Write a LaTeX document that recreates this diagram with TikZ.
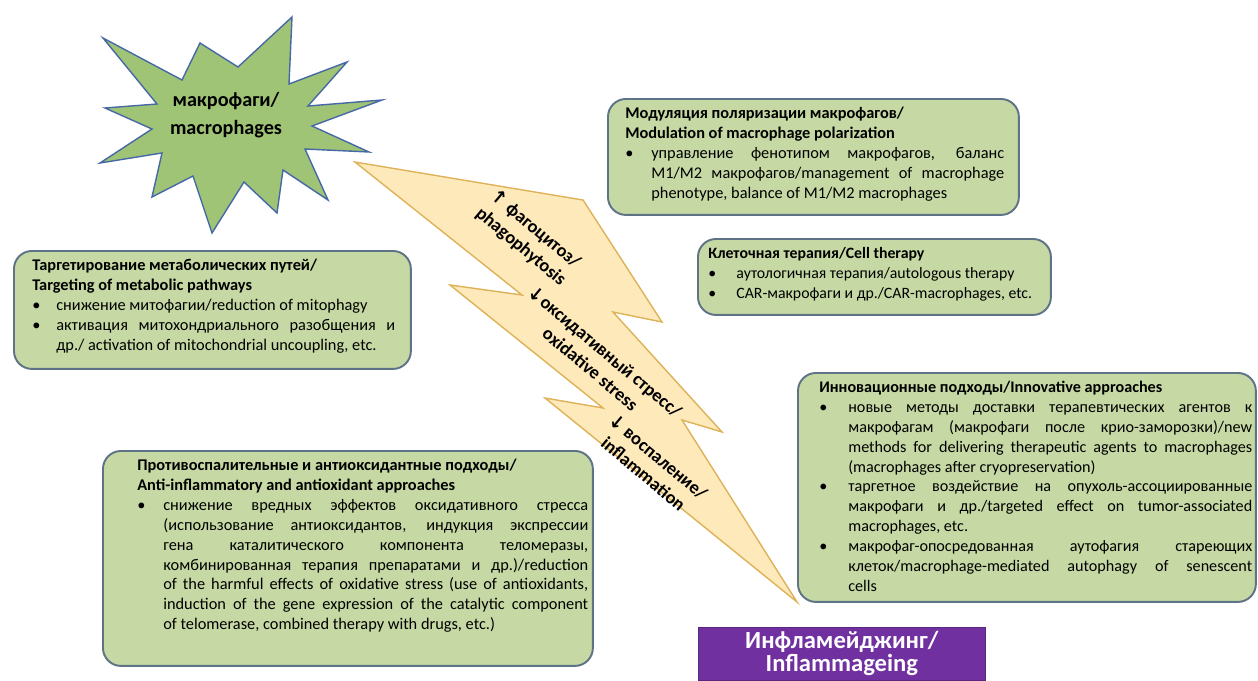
\documentclass[tikz,border=0pt]{standalone}
\usepackage{fontspec}
\setmainfont{Carlito}
\newfontfamily\arrowfont{DejaVu Sans}
\usetikzlibrary{positioning}

\definecolor{boxgreen}{RGB}{198,217,164}
\definecolor{boxedge}{RGB}{95,115,135}
\definecolor{stargreen}{RGB}{160,196,118}
\definecolor{staredge}{RGB}{70,105,165}
\definecolor{boltfill}{RGB}{253,233,186}
\definecolor{boltedge}{RGB}{222,178,88}
\definecolor{agepurple}{RGB}{112,48,160}

\newlength{\bind}
\newcommand{\bitem}[1]{\par\hangindent=\bind\hangafter=1\noindent\hbox to\bind{\textbullet\hfil}#1\par}
\newcommand{\up}{{\arrowfont\bfseries ↑}}
\newcommand{\down}{{\arrowfont\bfseries ↓}}

\tikzset{
    grbox/.style={draw=boxedge, line width=1.1pt, fill=boxgreen,
        rounded corners=0.36cm, anchor=north west, inner sep=0pt},
    boxtext/.style={inner sep=0pt, align=justify, font=\fontsize{#1}{11.3}\selectfont,
        execute at begin node={\tolerance=10000\hyphenpenalty=10000%
        \exhyphenpenalty=10000\parindent=0pt}},
    boxtext/.default=9.3,
    bolttext/.style={font=\fontsize{10.5}{13}\selectfont\bfseries,
        align=center, rotate=-40, inner sep=0pt}
}

\begin{document}
\begin{tikzpicture}[x=0.02cm, y=-0.02cm]
	\useasboundingbox (0,0) rectangle (1258,680);

	% star and bolt
	\filldraw[fill=stargreen, draw=staredge, line width=0.8pt]
		(292,17) -- (289,84) -- (347,62) -- (308,106) -- (382,100) -- (312,126)
		-- (369,152) -- (305,149) -- (328,200) -- (283,170) -- (277,213)
		-- (244,182) -- (212,233) -- (193,176) -- (152,197) -- (162,153)
		-- (100,163) -- (152,129) -- (105,108) -- (157,104) -- (103,38)
		-- (182,80) -- (200,43) -- (238,67) -- cycle;
	\filldraw[fill=boltfill, draw=boltedge, line width=0.8pt]
		(355,162) -- (583,200) -- (662,322) -- (613,312) -- (722,432)
		-- (682,420) -- (797,602) -- (545,398) -- (603,408) -- (450,285)
		-- (522,295) -- cycle;

	\node (macro) [font=\fontsize{11.5}{16}\selectfont\bfseries, align=center]
		at (226,115) {макрофаги/\\macrophages};

	\node (phago) [bolttext] at (528,238) {\up\ фагоцитоз/\\phagophytosis};
	\node (oxid) [bolttext] at (598,360) {\down оксидативный стресс/\\oxidative stress};
	\node (inflam) [bolttext] at (651,465) {\down\ воспаление/\\inflammation};

	% boxes
	\node (polar) [grbox, minimum width=8.22cm, minimum height=2.32cm] at (607,98) {};
	\node (polartxt) [boxtext, text width=7.58cm,
		below right=0.18cm and 0.36cm of polar.north west]
		{\setlength{\bind}{0.52cm}\textbf{Модуляция поляризации макрофагов/\\Modulation of macrophage polarization}
		\bitem{управление фенотипом макрофагов, баланс\linebreak M1/M2 макрофагов/management of macrophage\linebreak phenotype, balance of M1/M2 macrophages}};

	\node (cell) [grbox, minimum width=7.06cm, minimum height=1.52cm] at (697,238) {};
	\node (celltxt) [boxtext=9.0, text width=6.66cm,
		below right=0.18cm and 0.22cm of cell.north west]
		{\setlength{\bind}{0.56cm}\textbf{Клеточная терапия/Cell therapy}
		\bitem{аутологичная терапия/autologous therapy}
		\bitem{CAR-макрофаги и др./CAR-macrophages, etc.}};

	\node (metab) [grbox, minimum width=7.94cm, minimum height=2.36cm] at (13,250) {};
	\node (metabtxt) [boxtext, text width=7.26cm,
		below right=0.18cm and 0.38cm of metab.north west]
		{\setlength{\bind}{0.48cm}\textbf{Таргетирование метаболических путей/\\Targeting of metabolic pathways}
		\bitem{снижение митофагии/reduction of mitophagy}
		\bitem{активация митохондриального разобщения и\linebreak др./ activation of mitochondrial uncoupling, etc.}};

	\node (innov) [grbox, minimum width=9.16cm, minimum height=4.58cm] at (797,372) {};
	\node (innovtxt) [boxtext=9.2, text width=8.66cm,
		below right=0.18cm and 0.44cm of innov.north west]
		{\setlength{\bind}{0.58cm}\textbf{Инновационные подходы/Innovative approaches}
		\bitem{новые методы доставки терапевтических агентов к\linebreak макрофагам (макрофаги после крио-заморозки)/new\linebreak methods for delivering therapeutic agents to macrophages\linebreak (macrophages after cryopreservation)}
		\bitem{таргетное воздействие на опухоль-ассоциированные\linebreak макрофаги и др./targeted effect on tumor-associated\linebreak macrophages, etc.}
		\bitem{макрофаг-опосредованная аутофагия стареющих\linebreak клеток/macrophage-mediated autophagy of senescent\linebreak cells}};

	\node (antiox) [grbox, minimum width=9.8cm, minimum height=4.3cm] at (102,450) {};
	\node (antioxtxt) [boxtext, text width=9.02cm,
		below right=0.18cm and 0.7cm of antiox.north west]
		{\setlength{\bind}{0.52cm}\textbf{Противоспалительные и антиоксидантные подходы/\\Anti-inflammatory and antioxidant approaches}
		\bitem{снижение вредных эффектов оксидативного стресса\linebreak (использование антиоксидантов, индукция экспрессии\linebreak гена каталитического компонента теломеразы,\linebreak комбинированная терапия препаратами и др.)/reduction\linebreak of the harmful effects of oxidative stress (use of antioxidants,\linebreak induction of the gene expression of the catalytic component\linebreak of telomerase, combined therapy with drugs, etc.)}};

	% inflammageing
	\node (aging) [anchor=north west, fill=agepurple, draw=agepurple!80!black,
		minimum width=5.74cm, minimum height=1.06cm, inner sep=0pt,
		text=white, font=\fontsize{14}{13}\selectfont\bfseries, align=center]
		at (698,627) {Инфламейджинг/\\Inflammageing};
\end{tikzpicture}
\end{document}
